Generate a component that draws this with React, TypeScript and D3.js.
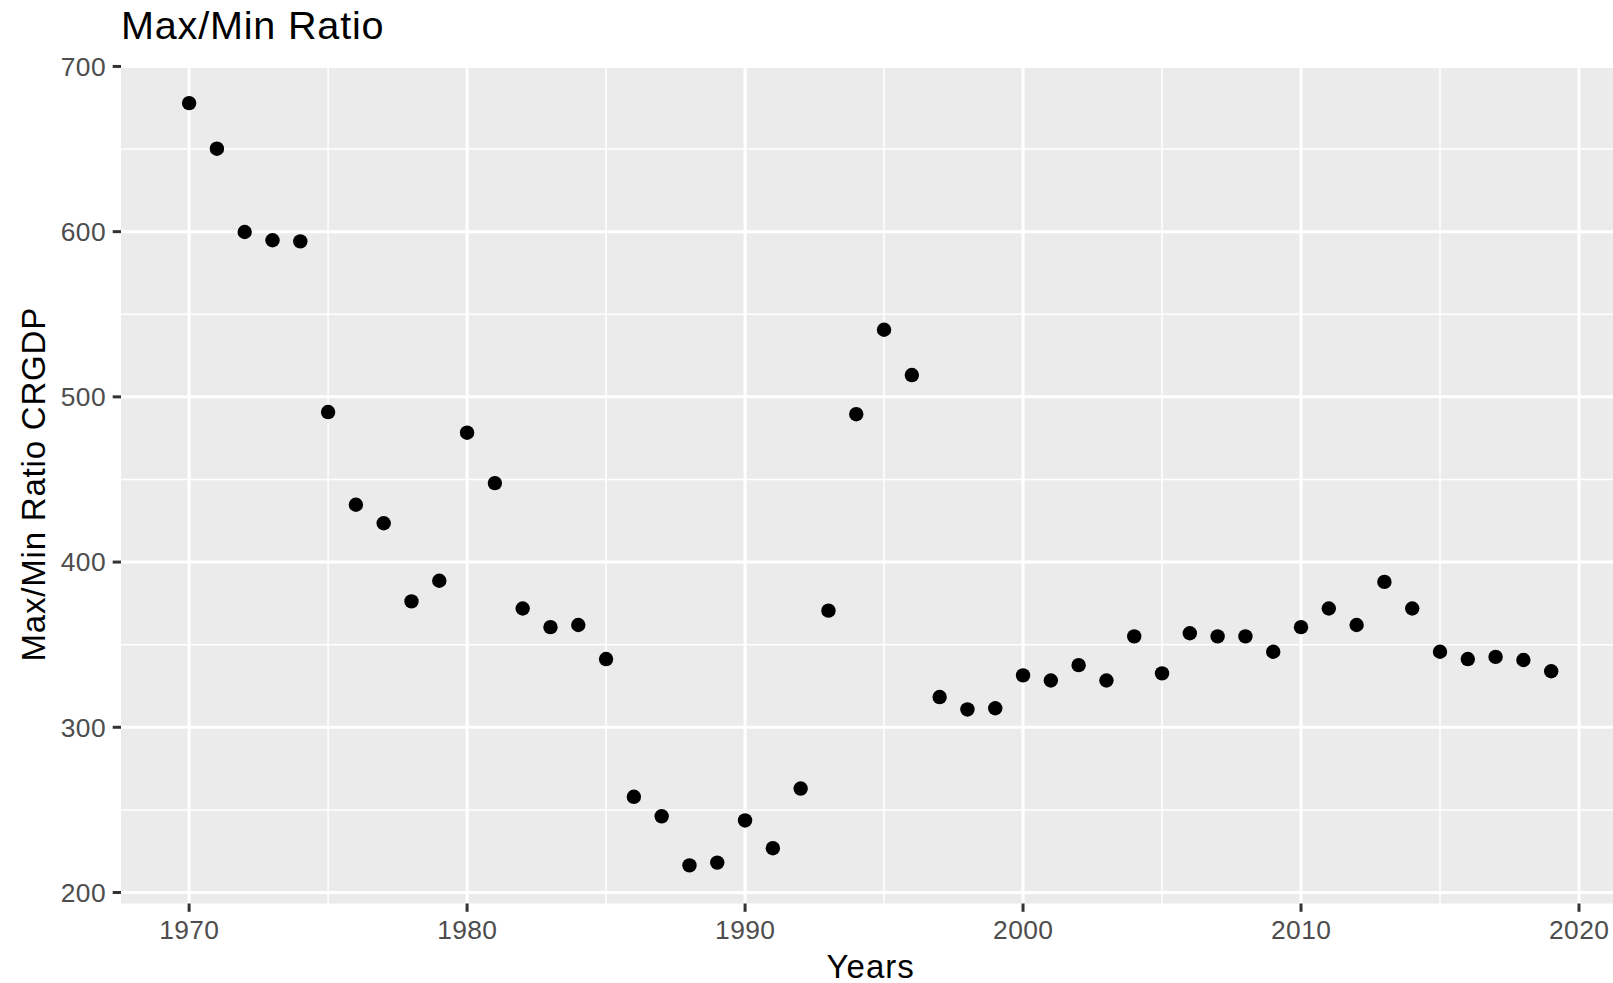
import React from "react";
import * as d3 from "d3";

const years: number[] = [
  1970, 1971, 1972, 1973, 1974, 1975, 1976, 1977, 1978, 1979,
  1980, 1981, 1982, 1983, 1984, 1985, 1986, 1987, 1988, 1989,
  1990, 1991, 1992, 1993, 1994, 1995, 1996, 1997, 1998, 1999,
  2000, 2001, 2002, 2003, 2004, 2005, 2006, 2007, 2008, 2009,
  2010, 2011, 2012, 2013, 2014, 2015, 2016, 2017, 2018, 2019,
];

const ratios: number[] = [
  677.8, 650.2, 599.8, 594.8, 594.1, 490.8, 434.7, 423.5, 376.2, 388.7,
  478.3, 447.8, 371.9, 360.6, 361.9, 341.3, 257.9, 246.1, 216.4, 218.1,
  243.6, 226.8, 262.9, 370.6, 489.5, 540.6, 513.2, 318.3, 310.8, 311.5,
  331.4, 328.3, 337.6, 328.3, 355.0, 332.6, 356.9, 355.0, 355.0, 345.7,
  360.6, 371.9, 361.9, 388.0, 371.9, 345.7, 341.3, 342.6, 340.7, 333.9,
];

const xTicks: number[] = [1970, 1980, 1990, 2000, 2010, 2020];
const xMinor: number[] = [1975, 1985, 1995, 2005, 2015];
const yTicks: number[] = [200, 300, 400, 500, 600, 700];
const yMinor: number[] = [250, 350, 450, 550, 650];

const title = "Max/Min Ratio";
const xTitle = "Years";
const yTitle = "Max/Min Ratio CRGDP";

const W = 1613;
const H = 983;
const FONT = "'Liberation Sans', Arial, Helvetica, sans-serif";

export default function App() {
  const left = 121;
  const right = 1619.3;
  const top = 65;
  const bottom = 903.5;

  const xMin = d3.min(years)!;
  const xMax = d3.max(years)!;
  const xPad = (xMax - xMin) * 0.05;
  const yMinV = d3.min(ratios)!;
  const yMaxV = d3.max(ratios)!;
  const yPad = (yMaxV - yMinV) * 0.05;

  const x = d3.scaleLinear().domain([xMin - xPad, xMax + xPad]).range([left, right]);
  const y = d3.scaleLinear().domain([yMinV - yPad, yMaxV + yPad]).range([bottom, top]);

  const data = years.map((yr, i) => ({ yr, v: ratios[i] }));

  return (
    <div style={{ position: "absolute", left: 0, top: 0, width: W, height: H, overflow: "hidden" }}>
      <svg width={W} height={H} style={{ display: "block", background: "#fff" }} fontFamily={FONT}>
        <rect x={left} y={top} width={right - left} height={bottom - top} fill="#EBEBEB" />
        {yMinor.map((t) => (
          <line key={"ym" + t} x1={left} x2={right} y1={y(t)} y2={y(t)} stroke="#fff" strokeWidth={1.5} />
        ))}
        {xMinor.map((t) => (
          <line key={"xm" + t} x1={x(t)} x2={x(t)} y1={top} y2={bottom} stroke="#fff" strokeWidth={1.5} />
        ))}
        {yTicks.map((t) => (
          <line key={"yg" + t} x1={left} x2={right} y1={y(t)} y2={y(t)} stroke="#fff" strokeWidth={3} />
        ))}
        {xTicks.map((t) => (
          <line key={"xg" + t} x1={x(t)} x2={x(t)} y1={top} y2={bottom} stroke="#fff" strokeWidth={3} />
        ))}
        {data.map((d) => (
          <circle key={d.yr} cx={x(d.yr)} cy={y(d.v)} r={7.2} fill="#000" />
        ))}
        {yTicks.map((t) => (
          <g key={"yt" + t}>
            <line x1={left - 8.3} x2={left} y1={y(t)} y2={y(t)} stroke="#333" strokeWidth={3} />
            <text x={left - 15} y={y(t)} dy="0.35em" textAnchor="end" fontSize={26.4} letterSpacing={0.4} fill="#4D4D4D">
              {t}
            </text>
          </g>
        ))}
        {xTicks.map((t) => (
          <g key={"xt" + t}>
            <line x1={x(t)} x2={x(t)} y1={bottom} y2={bottom + 8.3} stroke="#333" strokeWidth={3} />
            <text x={x(t) + 0.2} y={939} textAnchor="middle" fontSize={26.4} letterSpacing={0.4} fill="#4D4D4D">
              {t}
            </text>
          </g>
        ))}
        <text x={(left + right) / 2 + 0.5} y={977.5} textAnchor="middle" fontSize={33} letterSpacing={1} fill="#000">
          {xTitle}
        </text>
        <text
          transform={`translate(44.5, ${(top + bottom) / 2}) rotate(-90)`}
          textAnchor="middle"
          fontSize={33}
          letterSpacing={0.8}
          fill="#000"
        >
          {yTitle}
        </text>
        <text x={121} y={39.3} fontSize={39.6} letterSpacing={0.8} fill="#000">
          {title}
        </text>
      </svg>
    </div>
  );
}
